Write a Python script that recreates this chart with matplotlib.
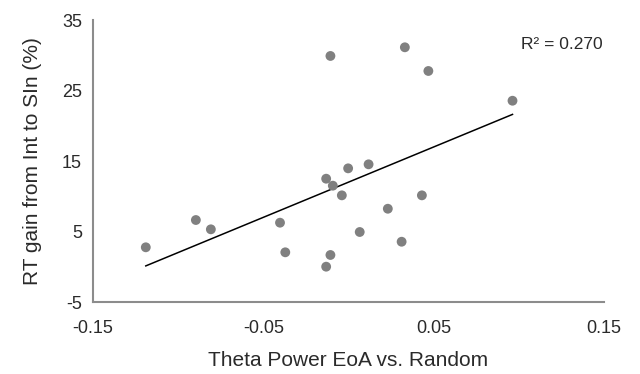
import numpy as np
import matplotlib
matplotlib.use("Agg")
import matplotlib.pyplot as plt

plt.rcParams["font.family"] = ["Liberation Sans", "DejaVu Sans"]
plt.rcParams["axes.unicode_minus"] = False

# theta power difference (EoA vs random) and RT gain per subject
theta = [-0.119, -0.0896, -0.0808, -0.0402, -0.0371, -0.0131, -0.0092, -0.0039,
         -0.0002, 0.0118, 0.0431, 0.0231, 0.0066, 0.0312, -0.0106, -0.0131,
         -0.0106, 0.0331, 0.0469, 0.0963]
rt_gain = [2.76, 6.63, 5.31, 6.25, 2.05, 12.49, 11.5, 10.13,
           13.96, 14.53, 10.13, 8.23, 4.93, 3.55, 1.67, 0.01,
           29.9, 31.13, 27.77, 23.55]
r2_label = "R² = 0.270"

xticks = [-0.15, -0.05, 0.05, 0.15]
yticks = [-5, 5, 15, 25, 35]

x = np.array(theta)
y = np.array(rt_gain)
slope, icpt = np.polyfit(x, y, 1)
xl = np.array([x.min(), x.max()])

fig = plt.figure(figsize=(6.4, 3.74), dpi=100)
ax = fig.add_axes([0.1453, 0.1925, 0.7984, 0.754])

ax.scatter(x, y, s=50, color="#808080", edgecolors="none", zorder=3)
ax.plot(xl, slope * xl + icpt, color="black", linewidth=1.1, zorder=2)

ax.set_xlim(-0.15, 0.15)
ax.set_ylim(-5, 35)
ax.set_xticks(xticks)
ax.set_xticklabels(["-0.15", "-0.05", "0.05", "0.15"])
ax.set_yticks(yticks)
ax.tick_params(length=0, labelsize=13, colors="#2a2a2a")
ax.tick_params(axis="x", pad=13)
ax.tick_params(axis="y", pad=8)

for s in ["top", "right"]:
    ax.spines[s].set_visible(False)
for s in ["left", "bottom"]:
    ax.spines[s].set_color("#8c8c8c")
    ax.spines[s].set_linewidth(1.5)

ax.set_xlabel("Theta Power EoA vs. Random", fontsize=15, color="#2a2a2a", labelpad=10)
ax.set_ylabel("RT gain from Int to SIn (%)", fontsize=15, color="#2a2a2a", labelpad=14)

ax.text(0.125, 31.5, r2_label, fontsize=12.5, ha="center", va="center", color="#2a2a2a")

plt.savefig("out.png", dpi=100)
plt.close()
